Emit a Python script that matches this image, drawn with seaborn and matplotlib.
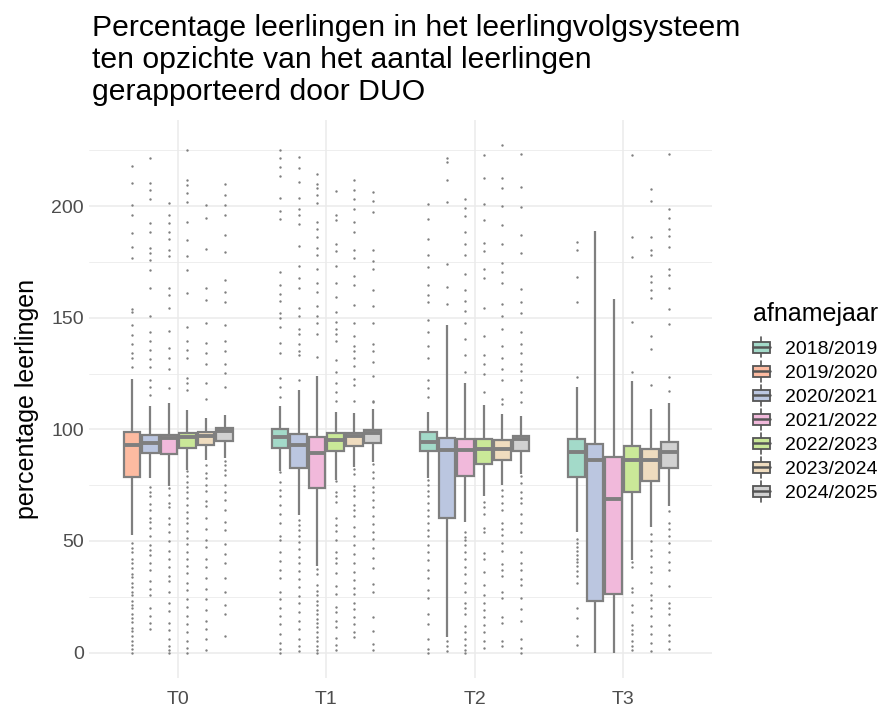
# Percentage leerlingen in het LVS t.o.v. DUO-telling, boxplots per afnamemoment
import numpy as np
import pandas as pd
import matplotlib.pyplot as plt
import matplotlib.patches as mpatches
from matplotlib.lines import Line2D
from matplotlib.legend_handler import HandlerBase
from matplotlib.ticker import MultipleLocator
import seaborn as sns

# Data
periods = ["T0", "T1", "T2", "T3"]
years = ["2018/2019", "2019/2020", "2020/2021", "2021/2022",
         "2022/2023", "2023/2024", "2024/2025"]
colors = ["#A3DAC9", "#FDBBA1", "#BBC6E0", "#F1B9DB",
          "#CAE898", "#EFDCBF", "#D1D1D1"]

# five numbers per box: lower whisker, Q1, median, Q3, upper whisker
T0_box = {
    "2019/2020": [52.8, 78.6, 92.9, 98.7, 122.6],
    "2020/2021": [78.0, 89.6, 94.0, 97.6, 110.5],
    "2021/2022": [74.8, 88.8, 96.0, 97.6, 112.0],
    "2022/2023": [82.0, 91.7, 96.7, 98.3, 108.5],
    "2023/2024": [86.2, 93.0, 97.0, 99.0, 105.0],
    "2024/2025": [87.0, 94.6, 99.2, 100.6, 106.6],
}
T1_box = {
    "2018/2019": [81.4, 91.8, 96.6, 100.0, 110.5],
    "2020/2021": [61.8, 82.5, 93.0, 98.0, 117.6],
    "2021/2022": [39.0, 73.6, 89.6, 96.4, 123.9],
    "2022/2023": [77.5, 90.4, 95.4, 98.4, 108.0],
    "2023/2024": [83.0, 92.4, 97.2, 98.3, 107.4],
    "2024/2025": [85.4, 93.8, 98.2, 99.7, 109.0],
}
T2_box = {
    "2018/2019": [78.3, 90.1, 94.3, 98.7, 108.0],
    "2020/2021": [6.8, 60.2, 90.9, 96.1, 146.7],
    "2021/2022": [58.6, 79.1, 90.9, 95.9, 120.8],
    "2022/2023": [70.0, 84.6, 91.4, 95.9, 111.0],
    "2023/2024": [75.2, 86.2, 91.4, 95.3, 106.9],
    "2024/2025": [79.9, 90.1, 95.6, 96.9, 105.8],
}
T3_box = {
    "2018/2019": [53.9, 78.6, 89.8, 95.6, 119.2],
    "2020/2021": [0.0, 23.3, 86.2, 93.6, 188.7],
    "2021/2022": [0.0, 26.4, 68.9, 87.6, 158.2],
    "2022/2023": [41.4, 72.0, 86.4, 92.5, 121.5],
    "2023/2024": [56.3, 76.8, 86.1, 91.4, 109.3],
    "2024/2025": [65.7, 82.7, 89.8, 94.4, 111.6],
}

# outliers per box
T0_out = {
    "2019/2020": [217.8, 210.4, 200.5, 195.9, 188.1, 181.6, 177.0, 153.8, 152.5, 146.7,
                  142.5, 138.1, 134.3, 131.8, 127.8,
                  49.2, 46.8, 45.1, 42.0, 40.3, 37.9, 35.2, 33.8, 31.0, 29.4, 27.1, 25.6,
                  23.0, 21.4, 19.8, 17.2, 15.5, 13.9, 11.0, 9.6, 7.3, 5.1, 3.2, 1.4, 0.0],
    "2020/2021": [221.7, 210.4, 207.2, 203.1, 192.6, 188.4, 181.3, 178.9, 176.1, 171.4,
                  163.5, 150.6, 143.6, 139.6, 135.7, 131.4, 127.8, 122.3, 119.2, 115.3,
                  74.4, 72.0, 70.1, 66.5, 64.0, 60.2, 58.7, 56.0, 52.3, 48.1, 46.0, 43.5,
                  40.2, 36.8, 32.0, 28.5, 25.6, 20.1, 16.3, 13.2, 10.7],
    "2021/2022": [201.4, 195.9, 192.3, 188.4, 185.2, 180.2, 177.7, 163.5, 160.1, 154.6,
                  144.3, 136.5, 131.8, 127.0, 118.4,
                  73.6, 70.8, 67.0, 65.1, 60.2, 57.4, 54.2, 50.0, 45.3, 41.8, 38.2, 34.5,
                  32.0, 27.3, 22.0, 18.4, 13.2, 10.1, 6.3, 3.0, 1.2, 0.0],
    "2022/2023": [225.3, 211.9, 209.6, 205.7, 201.7, 193.1, 184.9, 177.7, 171.4, 161.2,
                  145.9, 139.6, 135.7, 131.8, 123.1, 120.8, 117.6,
                  81.4, 79.2, 76.5, 74.0, 71.8, 69.3, 66.0, 63.2, 60.5, 58.0, 54.6, 51.3,
                  48.7, 45.2, 42.0, 38.9, 35.5, 31.0, 28.2, 24.0, 20.5, 16.3, 12.8, 9.0,
                  5.4, 2.0, 0.0],
    "2023/2024": [200.5, 194.7, 180.8, 163.2, 158.0, 147.5, 138.8, 134.1, 129.4, 120.8, 113.7,
                  84.0, 80.5, 78.2, 75.0, 72.3, 68.0, 65.5, 60.1, 55.2, 50.4, 47.3, 42.0,
                  38.5, 33.3, 28.6, 24.1, 19.0, 14.2, 10.5, 6.3, 1.3],
    "2024/2025": [209.9, 204.9, 200.5, 195.9, 187.1, 179.6, 167.1, 161.6, 156.9, 146.7,
                  139.6, 134.9, 129.4, 125.2, 119.2,
                  86.0, 84.2, 82.0, 79.5, 75.1, 72.0, 68.4, 64.0, 58.3, 55.0, 48.7, 44.0,
                  40.1, 33.6, 27.0, 21.3, 17.4, 7.5],
}
T1_out = {
    "2018/2019": [225.3, 221.4, 217.5, 213.5, 203.8, 197.8, 194.2, 170.3, 164.8, 160.8,
                  157.7, 152.2, 149.8, 145.9, 138.5, 134.1, 123.1, 119.2, 114.5,
                  80.7, 76.4, 73.0, 70.2, 66.0, 62.1, 58.0, 52.2, 50.3, 45.0, 41.2, 37.1,
                  33.6, 27.0, 24.0, 19.8, 16.5, 12.6, 8.2, 4.5, 1.6, 0.0],
    "2020/2021": [222.2, 217.0, 210.8, 203.8, 198.6, 195.9, 192.0, 182.1, 173.0, 167.9,
                  163.5, 154.6, 150.6, 145.1, 142.8, 138.4, 134.9, 133.3, 122.3,
                  59.4, 57.0, 55.1, 52.3, 49.5, 46.2, 42.8, 40.1, 36.4, 33.0, 29.5, 25.3,
                  22.1, 18.0, 14.2, 10.5, 6.0, 3.1, 0.5],
    "2021/2022": [214.3, 209.9, 208.0, 204.9, 201.4, 193.1, 189.9, 186.0, 181.3, 178.1,
                  171.9, 165.6, 161.6, 155.3, 150.6, 147.5, 142.8, 132.5,
                  37.4, 35.0, 30.2, 27.5, 25.8, 23.0, 21.2, 19.0, 17.1, 15.0, 13.2, 11.3,
                  9.0, 7.1, 5.0, 3.0, 1.0, 0.0],
    "2022/2023": [206.9, 196.2, 193.9, 182.9, 179.7, 173.3, 165.6, 159.3, 152.5, 148.3,
                  145.1, 142.8, 139.6, 131.0, 125.5, 120.8, 116.8, 112.9,
                  76.7, 72.0, 70.1, 67.5, 60.2, 57.0, 54.6, 50.5, 45.0, 42.3, 40.1, 35.8,
                  30.0, 26.1, 20.5, 18.0, 14.2, 11.5, 6.5, 3.2, 1.0],
    "2023/2024": [211.6, 207.2, 203.3, 198.6, 193.1, 188.4, 180.2, 176.6, 168.7, 164.8,
                  155.7, 147.5, 141.7, 137.3, 134.9, 131.8, 128.6, 122.6, 120.0, 112.9,
                  82.2, 80.0, 74.5, 72.8, 70.0, 66.3, 64.0, 61.1, 56.2, 52.3, 48.4, 44.0,
                  40.2, 36.0, 32.5, 29.0, 26.1, 22.0, 19.3, 16.0, 13.0, 9.4, 6.8],
    "2024/2025": [206.4, 202.5, 197.5, 180.5, 175.5, 171.9, 162.4, 155.3, 147.8, 138.1,
                  134.9, 130.2, 123.9, 112.9, 112.1,
                  84.6, 81.0, 78.2, 74.0, 72.0, 68.5, 65.0, 61.0, 57.4, 54.1, 51.0, 47.0,
                  42.2, 38.1, 30.5, 27.3, 16.0, 9.5, 4.0, 1.2],
}
T2_out = {
    "2018/2019": [200.9, 194.2, 185.2, 178.1, 172.6, 164.8, 160.1, 156.9, 149.1, 143.6,
                  137.3, 132.1, 122.3, 118.4, 114.5,
                  77.5, 75.0, 72.5, 70.1, 67.2, 64.0, 61.0, 58.0, 55.1, 52.2, 48.0, 45.1,
                  41.3, 37.0, 33.2, 28.0, 24.5, 17.1, 13.0, 6.3, 1.5, 0.0],
    "2020/2021": [221.7, 219.8, 211.9, 201.7, 174.2, 164.0, 156.1, 5.2, 2.8, 0.5],
    "2021/2022": [203.3, 199.4, 195.4, 188.4, 182.9, 178.1, 169.5, 162.4, 157.7, 153.0,
                  147.5, 140.4, 133.3, 125.5,
                  53.9, 52.0, 50.4, 48.2, 45.0, 42.1, 38.5, 35.3, 31.0, 27.2, 22.4, 20.1,
                  17.5, 12.0, 9.3, 6.0, 3.2, 1.0, 0.0],
    "2022/2023": [223.0, 212.7, 200.9, 193.9, 183.6, 179.7, 171.9, 167.9, 154.6, 142.0,
                  133.3, 129.4, 124.7, 116.8,
                  67.3, 65.0, 62.1, 56.0, 54.2, 44.5, 42.0, 36.3, 30.2, 26.0, 22.1, 19.2,
                  16.0, 12.5, 9.3, 5.1, 2.0],
    "2023/2024": [227.4, 212.7, 208.0, 200.2, 191.5, 182.9, 174.5, 170.3, 165.6, 156.1,
                  150.6, 145.1, 137.3, 131.8, 127.0, 122.3, 113.7, 111.3,
                  72.8, 70.0, 67.0, 64.1, 58.0, 55.2, 52.5, 49.0, 45.3, 39.6, 37.0, 34.1,
                  27.0, 24.5, 16.0, 13.2, 5.0, 3.0],
    "2024/2025": [223.4, 208.8, 199.8, 187.3, 179.2, 162.9, 156.9, 152.2, 143.6, 138.1,
                  134.1, 129.4, 126.3, 122.3, 116.8, 112.1,
                  79.1, 76.0, 72.0, 69.2, 67.0, 62.0, 58.1, 54.0, 45.0, 40.2, 37.0, 33.0,
                  30.1, 24.3, 19.7, 14.0, 6.3, 2.0, 0.0],
}
T3_out = {
    "2018/2019": [184.0, 180.2, 168.2, 157.2, 123.4,
                  50.8, 49.0, 47.2, 45.5, 43.8, 42.0, 40.5, 38.6, 36.4, 34.3, 31.1, 20.1,
                  15.4, 7.5, 3.6],
    "2022/2023": [223.0, 186.3, 177.4, 148.0, 125.9,
                  40.6, 38.2, 29.0, 27.1, 21.2, 18.0, 12.2, 10.0, 8.3, 5.0, 2.8, 1.3],
    "2023/2024": [207.5, 202.2, 186.0, 180.2, 178.1, 168.7, 166.0, 162.4, 158.8, 142.0,
                  136.2, 119.7,
                  53.0, 50.1, 46.0, 43.2, 38.5, 36.0, 31.2, 26.0, 23.5, 20.1, 16.2, 12.0,
                  8.1, 4.5, 0.5],
    "2024/2025": [223.4, 198.6, 194.7, 189.9, 186.8, 181.8, 171.9, 169.0, 163.2, 153.8,
                  147.0, 123.4, 117.1,
                  63.4, 58.0, 55.2, 52.3, 49.2, 45.0, 40.5, 37.1, 30.0, 22.3, 20.0, 17.1,
                  12.3, 8.0, 5.1, 1.4],
}

box_tables = {"T0": T0_box, "T1": T1_box, "T2": T2_box, "T3": T3_box}
out_tables = {"T0": T0_out, "T1": T1_out, "T2": T2_out, "T3": T3_out}
palette = dict(zip(years, colors))
line_gray = "#7F7F7F"

# Theme
sns.set_theme(style="white")
plt.rcParams["font.family"] = ["Liberation Sans", "DejaVu Sans"]
plt.rcParams["text.color"] = "black"

fig = plt.figure(figsize=(8.83, 7.11), dpi=100)
ax = fig.add_axes([0.1011, 0.0464, 0.705, 0.7854])

box_width = 0.75
for i, p in enumerate(periods):
    present = [y for y in years if y in box_tables[p]]
    rows = [(p, y, v) for y in present for v in box_tables[p][y]]
    df = pd.DataFrame(rows, columns=["periode", "afnamejaar", "pct"])
    sns.boxplot(data=df, x="periode", y="pct", hue="afnamejaar",
                order=periods, hue_order=present, palette=palette,
                whis=(0, 100), width=box_width, gap=0.1, saturation=1,
                linecolor=line_gray, linewidth=1.6, showfliers=False,
                showcaps=False, medianprops={"linewidth": 2.8},
                legend=False, ax=ax)

    # outliers, dodged the same way as the boxes
    n = len(present)
    fx, fy = [], []
    for j, y in enumerate(present):
        xpos = i + (j + 0.5) * box_width / n - box_width / 2
        vals = out_tables[p].get(y, [])
        fx += [xpos] * len(vals)
        fy += vals
    ax.scatter(fx, fy, s=3, color=line_gray, linewidths=0, zorder=3)

# Axes styling (ggplot theme_minimal look)
ax.set_xlim(-0.6, 3.6)
ax.set_ylim(-11.4, 238.8)
ax.set_xticks(range(len(periods)))
ax.set_xticklabels(periods)
ax.set_yticks([0, 50, 100, 150, 200])
ax.yaxis.set_minor_locator(MultipleLocator(25))
ax.grid(which="major", axis="both", color="#EBEBEB", linewidth=1.1)
ax.grid(which="minor", axis="y", color="#EBEBEB", linewidth=0.6)
ax.set_axisbelow(True)
for s in ax.spines.values():
    s.set_visible(False)
ax.tick_params(which="both", length=0, labelsize=14, labelcolor="#4D4D4D")
ax.tick_params(axis="y", pad=4)
ax.tick_params(axis="x", pad=9)
ax.set_xlabel("")
ax.set_ylabel("percentage leerlingen", fontsize=18, color="black", labelpad=8.5)

fig.text(0.104, 0.981,
         "Percentage leerlingen in het leerlingvolgsysteem\n"
         "ten opzichte van het aantal leerlingen\n"
         "gerapporteerd door DUO",
         fontsize=21.7, color="black", ha="left", va="top", linespacing=1.2)


# Legend with small boxplot keys
class BoxKey(HandlerBase):
    def create_artists(self, legend, orig_handle, xdescent, ydescent,
                       width, height, fontsize, trans):
        x0, y0 = -xdescent, -ydescent
        edge = "#555555"
        whisker = Line2D([x0 + width / 2] * 2, [y0 - 2, y0 + height + 2],
                         color=edge, lw=1.2, transform=trans)
        rect = mpatches.Rectangle((x0, y0 + height * 0.12), width, height * 0.76,
                                  facecolor=orig_handle.get_facecolor(),
                                  edgecolor=edge, lw=1.3, transform=trans)
        med = Line2D([x0, x0 + width], [y0 + height / 2] * 2,
                     color=edge, lw=1.8, transform=trans)
        return [whisker, rect, med]


handles = [mpatches.Patch(facecolor=c, label=y) for y, c in zip(years, colors)]
leg = fig.legend(handles=handles, title="afnamejaar", loc="upper left",
                 bbox_to_anchor=(0.842, 0.589), frameon=False, fontsize=14,
                 title_fontsize=18, alignment="left", borderpad=0,
                 handlelength=0.85, handleheight=0.8, handletextpad=0.8,
                 labelspacing=0.3, handler_map={mpatches.Patch: BoxKey()})
leg._legend_box.sep = 10

fig.savefig("out.png", dpi=100, facecolor="white")
